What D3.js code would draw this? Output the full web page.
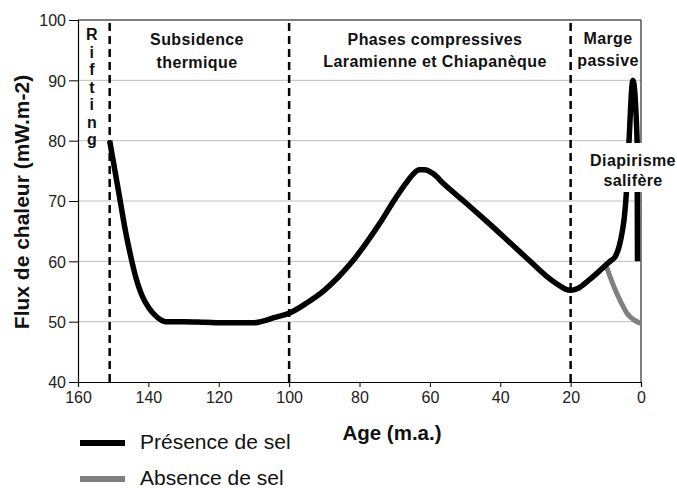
<!DOCTYPE html>
<html>
<head>
<meta charset="utf-8">
<script src="https://cdn.jsdelivr.net/npm/d3@7"></script>
<style>
  html, body { margin: 0; padding: 0; background: #fff; }
  svg { display: block; font-family: Arial, "Liberation Sans", sans-serif; }
</style>
</head>
<body>
<svg id="chart" width="677" height="488"></svg>
<script>
// Axis ticks
const ageTicks = [160, 140, 120, 100, 80, 60, 40, 20, 0];
const fluxTicks = [40, 50, 60, 70, 80, 90, 100];

// Heat flow with salt (age in Ma, flux in mW.m-2)
const presenceAge  = [151, 149.5, 148, 146.5, 145, 143.5, 142, 140, 138, 136.5, 135, 130, 124, 118, 110, 108, 104, 100, 95, 90, 86, 82, 78, 74, 70.5, 67, 65, 63, 61.5, 59, 56, 50, 44, 38, 31.5, 27, 24, 21.5, 20, 18, 15, 12, 10, 8.8, 7.3, 6.2, 5.3, 4.7, 4.2, 3.8, 3.4, 2.3, 1.1, 1.0];
const presenceFlux = [80, 75, 70, 65, 60.8, 57.2, 54.6, 52.4, 51, 50.3, 50, 50, 49.9, 49.8, 49.8, 50, 50.7, 51.4, 53.1, 55.2, 57.4, 60, 63.1, 66.5, 69.8, 72.8, 74.3, 75.2, 75.2, 74.5, 72.8, 69.8, 66.7, 63.5, 60, 57.6, 56.3, 55.4, 55.2, 55.5, 56.8, 58.3, 59.4, 60, 60.8, 62.5, 65, 67.5, 71, 75, 80, 90, 80, 60];

// Heat flow without salt
const absenceAge  = [10, 8.5, 6.9, 5.5, 4, 2, 0];
const absenceFlux = [59.4, 57, 54.7, 53, 51.4, 50.3, 49.7];

// Tectonic phase boundaries (Ma)
const phaseBounds = [151, 100, 20];

// Series legend
const seriesNames  = ["Présence de sel", "Absence de sel"];
const seriesColors = ["#000000", "#808080"];

const svg = d3.select("#chart");
const plotL = 78, plotR = 641, plotT = 20, plotB = 382;

const x = d3.scaleLinear().domain([160, 0]).range([plotL, plotR]);
const y = d3.scaleLinear().domain([40, 100]).range([plotB, plotT]);

// Horizontal gridlines
svg.append("g")
  .selectAll("line")
  .data(fluxTicks.filter(v => v > 40 && v < 100))
  .join("line")
  .attr("x1", plotL).attr("x2", plotR)
  .attr("y1", d => y(d)).attr("y2", d => y(d))
  .attr("stroke", "#bdbdbd").attr("stroke-width", 1);

// Plot frame (top and right)
svg.append("path")
  .attr("d", `M${plotL},${plotT}H${plotR}V${plotB}`)
  .attr("fill", "none").attr("stroke", "#000").attr("stroke-width", 1);

// Phase boundaries
svg.append("g")
  .selectAll("line")
  .data(phaseBounds)
  .join("line")
  .attr("x1", d => x(d)).attr("x2", d => x(d))
  .attr("y1", plotT + 3).attr("y2", plotB)
  .attr("stroke", "#000").attr("stroke-width", 2.5)
  .attr("stroke-dasharray", "8,5");

// Axes
const yAxis = svg.append("g")
  .attr("transform", `translate(${plotL},0)`)
  .call(d3.axisLeft(y).tickValues(fluxTicks).tickSize(9).tickPadding(3));
const xAxis = svg.append("g")
  .attr("transform", `translate(0,${plotB})`)
  .call(d3.axisBottom(x).tickValues(ageTicks).tickSize(5).tickPadding(5));
[yAxis, xAxis].forEach(g => {
  g.select(".domain").attr("stroke", "#000").attr("stroke-width", 1.2);
  g.selectAll(".tick line").attr("stroke", "#000");
  g.selectAll(".tick text")
    .attr("fill", "#222")
    .style("font-family", "Arial, 'Liberation Sans', sans-serif")
    .style("font-size", "16px");
});
yAxis.selectAll(".tick text").attr("dy", "0.36em");

// Curves
const line = d3.line()
  .x(d => x(d[0]))
  .y(d => y(d[1]))
  .curve(d3.curveMonotoneX);

svg.append("path")
  .datum(absenceAge.map((a, i) => [a, absenceFlux[i]]))
  .attr("d", line)
  .attr("fill", "none")
  .attr("stroke", seriesColors[1])
  .attr("stroke-width", 5);

svg.append("path")
  .datum(presenceAge.map((a, i) => [a, presenceFlux[i]]))
  .attr("d", line)
  .attr("fill", "none")
  .attr("stroke", seriesColors[0])
  .attr("stroke-width", 5.5)
  .attr("stroke-linejoin", "miter");

// Phase annotations
const annot = svg.append("g")
  .attr("font-weight", "bold")
  .attr("font-size", 16)
  .attr("letter-spacing", "0.4px")
  .attr("fill", "#111")
  .attr("text-anchor", "middle");

function label(cx, baseline, lines, spacing) {
  lines.forEach((t, i) => {
    annot.append("text").attr("x", cx).attr("y", baseline + i * spacing).text(t);
  });
}

// "Rifting", one letter per line
label(92, 40, "Rifting".split(""), 17.5);
label(197, 45, ["Subsidence", "thermique"], 23);
label(435, 45, ["Phases compressives", "Laramienne et Chiapanèque"], 22);
label(608, 44, ["Marge", "passive"], 22);

// Salt diapirism label sits on a white box over the curve
annot.append("rect")
  .attr("x", 588).attr("y", 143).attr("width", 89).attr("height", 49)
  .attr("fill", "#fff");
label(633, 166, ["Diapirisme", "salifère"], 20);

// Axis titles
svg.append("text")
  .attr("x", 392).attr("y", 440)
  .attr("text-anchor", "middle")
  .attr("font-weight", "bold").attr("font-size", 20.5)
  .attr("fill", "#111")
  .text("Age (m.a.)");

svg.append("text")
  .attr("transform", "translate(29,202) rotate(-90)")
  .attr("text-anchor", "middle")
  .attr("font-weight", "bold").attr("font-size", 21)
  .attr("fill", "#111")
  .text("Flux de chaleur (mW.m-2)");

// Legend
const legend = svg.append("g");
seriesNames.forEach((name, i) => {
  const ly = 443 + i * 36;
  legend.append("line")
    .attr("x1", 80).attr("x2", 125)
    .attr("y1", ly).attr("y2", ly)
    .attr("stroke", seriesColors[i]).attr("stroke-width", 6);
  legend.append("text")
    .attr("x", 140).attr("y", ly + 6)
    .attr("font-size", 21)
    .attr("fill", "#111")
    .text(name);
});
</script>
</body>
</html>
